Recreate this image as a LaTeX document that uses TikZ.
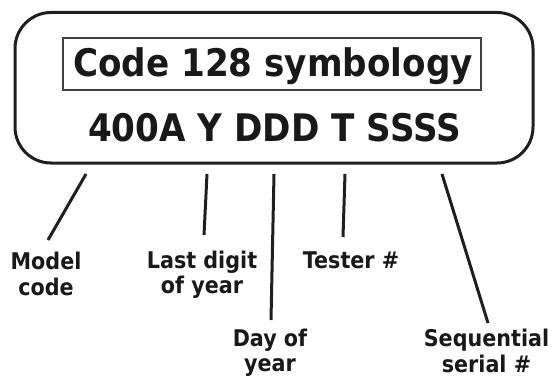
\documentclass[tikz,border=0pt]{standalone}
\usepackage{fontspec}
\newfontfamily\dv{DejaVu Sans}[FakeStretch=0.9]
\begin{document}
\begin{tikzpicture}[x=1pt,y=-1pt,
  big/.style={font=\dv\bfseries\fontsize{38}{42}\selectfont, text=black!90, inner sep=0pt, anchor=base},
  lbl/.style={font=\dv\bfseries\fontsize{23}{25.5}\selectfont, text=black!90, inner sep=0pt, anchor=base, align=center},
  conn/.style={line width=3pt, draw=black!88},
]
\useasboundingbox (0,0) rectangle (554,377);
% outer rounded box
\node (box) [draw=black!88, line width=3pt, rounded corners=36pt, minimum width=518pt, minimum height=150.5pt, inner sep=0pt] at (274,87.75) {};
% inner rectangle
\node (frame) [draw=black!75, line width=1.2pt, minimum width=418pt, minimum height=52pt, inner sep=0pt] at (272,64) {};
\node (title) [big] at (273,77) {Code 128 symbology};
\node (code) [big] at (274.5,142) {400A Y DDD T SSSS};
% labels (base = baseline of last line)
\node (model) [lbl] at (46,295) {Model\\code};
\node (last) [lbl] at (202,293.5) {Last digit\\of year};
\node (day) [lbl] at (270,371.5) {Day of\\year};
\node (tester) [lbl] at (351,268) {Tester \#};
\node (seq) [lbl] at (486.5,372) {Sequential\\serial \#};
% connector ends
\coordinate (m1) at (86,174);  \coordinate (m2) at (48,240);
\coordinate (l1) at (207,174); \coordinate (l2) at (204,235);
\coordinate (d1) at (274,174); \coordinate (d2) at (271,320);
\coordinate (t1) at (345,174); \coordinate (t2) at (343,237);
\coordinate (s1) at (442,174); \coordinate (s2) at (488,323);
\draw[conn] (m1) -- (m2);
\draw[conn] (l1) -- (l2);
\draw[conn] (d1) -- (d2);
\draw[conn] (t1) -- (t2);
\draw[conn] (s1) -- (s2);
\end{tikzpicture}
\end{document}
